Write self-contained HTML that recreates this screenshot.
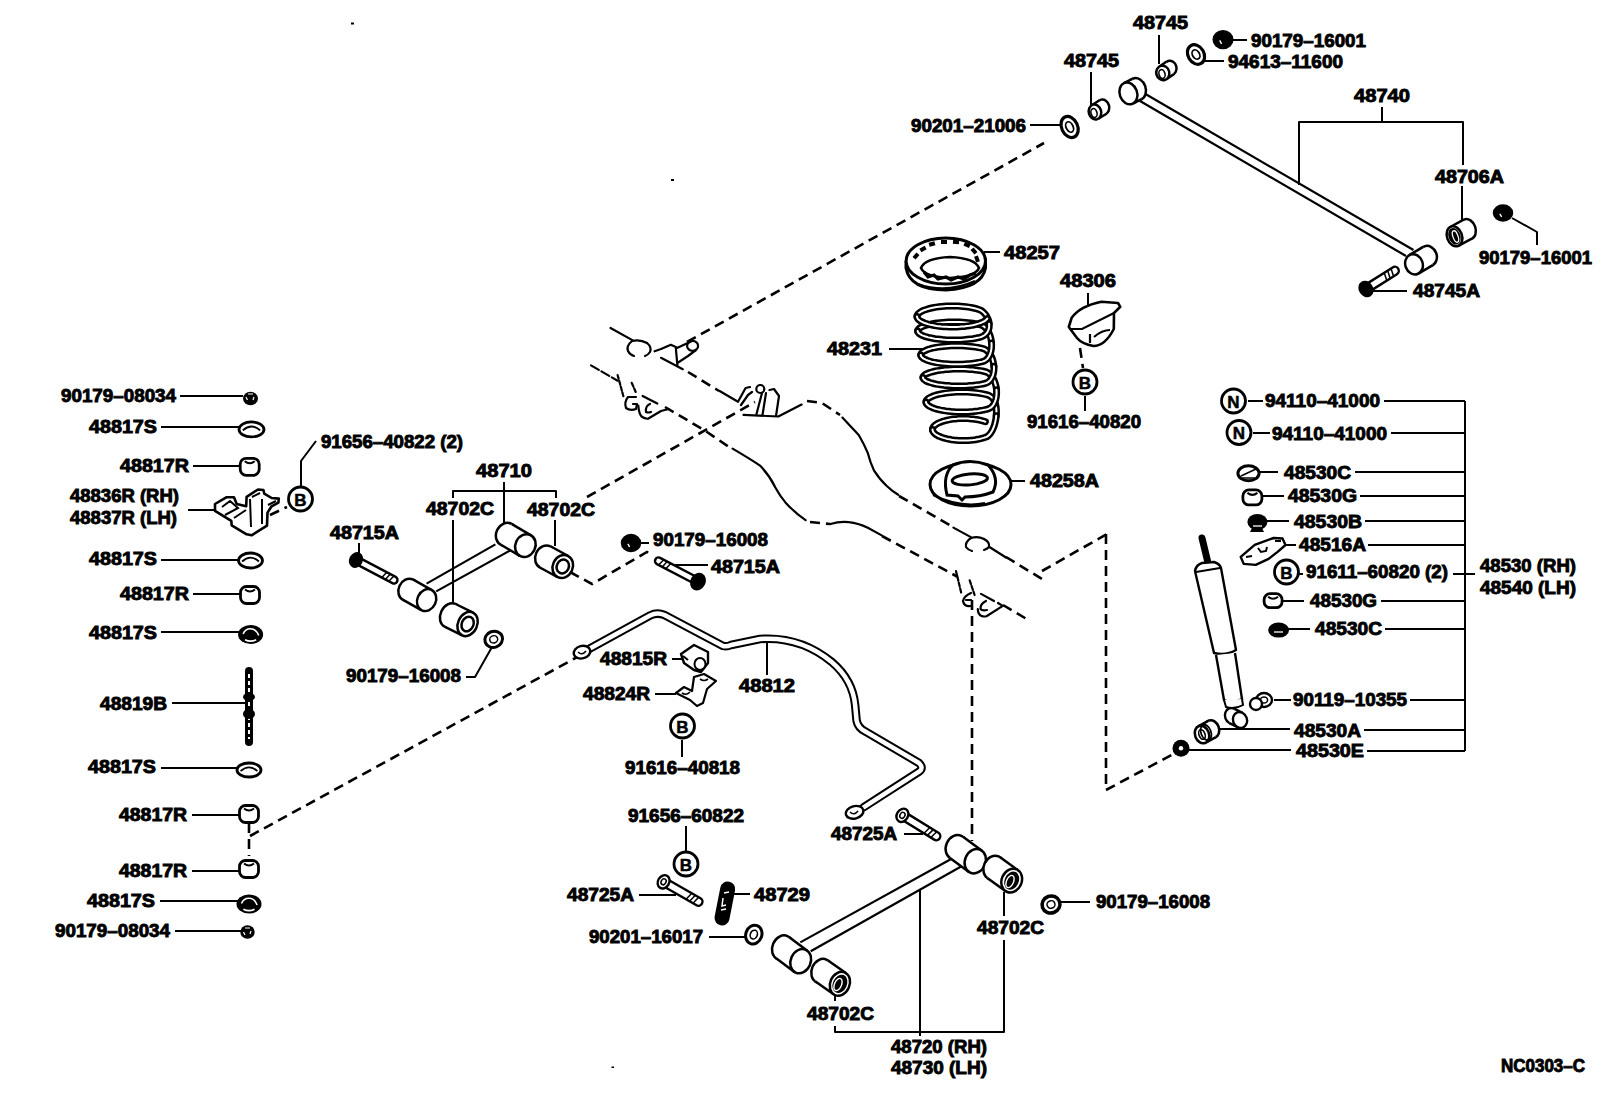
<!DOCTYPE html><html><head><meta charset="utf-8"><style>html,body{margin:0;padding:0;background:#fff;width:1608px;height:1104px;overflow:hidden}svg{display:block}</style></head><body><svg width="1608" height="1104" viewBox="0 0 1608 1104">
<rect width="1608" height="1104" fill="#fff"/>
<g fill="none" stroke="#000" stroke-width="2" stroke-linejoin="round">
<polyline points="180,396 243,396"/>
<polyline points="161,427 240,427"/>
<polyline points="193,466 241,466"/>
<polyline points="188,510 218,510"/>
<polyline points="161,560 240,560"/>
<polyline points="193,594 241,594"/>
<polyline points="161,632 239,632"/>
<polyline points="172,703 245,703"/>
<polyline points="161,768 238,768"/>
<polyline points="192,815 241,815"/>
<polyline points="192,871 241,871"/>
<polyline points="160,901 238,901"/>
<polyline points="175,931 241,931"/>
<polyline points="316,441 301,461 301,487"/>
<polyline points="453,498 453,491 556,491 556,498"/>
<polyline points="504,482 504,524"/>
<polyline points="453,520 453,603"/>
<polyline points="555,520 555,546"/>
<polyline points="359,543 359,560"/>
<polyline points="640,543 649,543"/>
<polyline points="675,565 708,565"/>
<polyline points="466,677 475,677 492,647"/>
<polyline points="672,659 683,659"/>
<polyline points="655,694 676,694"/>
<polyline points="767,643 767,675"/>
<polyline points="682,740 682,757"/>
<polyline points="686,826 686,851"/>
<polyline points="639,895 676,895"/>
<polyline points="734,894 750,894"/>
<polyline points="709,937 746,937"/>
<polyline points="904,834 923,834"/>
<polyline points="835,1026 835,1032 1004,1032 1004,940"/>
<polyline points="920,889 920,1036"/>
<polyline points="1004,892 1004,916"/>
<polyline points="835,992 835,1001"/>
<polyline points="1059,902 1090,902"/>
<polyline points="1231,40 1247,40"/>
<polyline points="1203,61 1224,61"/>
<polyline points="1091,72 1091,106"/>
<polyline points="1159,35 1159,64"/>
<polyline points="1030,125 1060,125"/>
<polyline points="1382,107 1382,122"/>
<polyline points="1299,185 1299,122 1463,122 1463,165"/>
<polyline points="1462,186 1462,221"/>
<polyline points="1512,218 1537,232 1537,245"/>
<polyline points="1372,291 1407,291"/>
<polyline points="984,252 1000,252"/>
<polyline points="1088,293 1088,308"/>
<polyline points="1085,396 1085,411"/>
<polyline points="889,349 924,349"/>
<polyline points="1010,481 1025,481"/>
<polyline points="1248,401 1263,401"/>
<polyline points="1384,401 1465,401"/>
<polyline points="1253,433 1270,433"/>
<polyline points="1391,433 1465,433"/>
<polyline points="1258,472 1278,472"/>
<polyline points="1355,472 1465,472"/>
<polyline points="1262,496 1284,496"/>
<polyline points="1360,496 1465,496"/>
<polyline points="1266,521 1289,521"/>
<polyline points="1365,521 1465,521"/>
<polyline points="1286,545 1296,545"/>
<polyline points="1368,545 1465,545"/>
<polyline points="1298,574 1303,574"/>
<polyline points="1453,574 1475,574"/>
<polyline points="1277,601 1304,601"/>
<polyline points="1381,601 1465,601"/>
<polyline points="1285,629 1310,629"/>
<polyline points="1385,629 1465,629"/>
<polyline points="1274,700 1291,700"/>
<polyline points="1410,700 1465,700"/>
<polyline points="1220,729 1290,729"/>
<polyline points="1364,730 1465,730"/>
<polyline points="1189,750 1291,750"/>
<polyline points="1367,751 1465,751"/>
<polyline points="1465,401 1465,751"/>
</g>
<g fill="none" stroke="#000" stroke-width="2.6" stroke-dasharray="10,6">
<polyline points="250,836 581,655"/>
<polyline points="249,823 249,856"/>
<polyline points="270,515 287,507"/>
<polyline points="570,572 592,584 647,552 653,556"/>
<polyline points="587,497 755,402"/>
<polyline points="687,342 1044,143"/>
<polyline points="688,372 719,391"/>
<polyline points="665,407 704,430 732,449"/>
<polyline points="807,401 822,403 840,415"/>
<polyline points="899,496 953,527"/>
<polyline points="810,522 830,524"/>
<polyline points="882,536 958,577"/>
<polyline points="1006,557 1047,582"/>
<polyline points="1003,605 1030,621"/>
<polyline points="972,600 972,841"/>
<polyline points="1042,571 1107,534"/>
<polyline points="1106,534 1106,790"/>
<polyline points="1106,790 1181,750"/>
<polyline points="1080,348 1083,368"/>
</g>
<path d="M610.5,328 L632.8,340.4" fill="none" stroke="#000" stroke-width="2.2" stroke-linecap="round" stroke-linejoin="round"/>
<path d="M632,341 Q626,346 628,351 Q630,355 634,356 M647,343 Q652,347 650,352 Q648,355 645,356" fill="none" stroke="#000" stroke-width="2.2" stroke-linecap="round" stroke-linejoin="round"/>
<path d="M632,341 Q640,339 647,343" fill="none" stroke="#000" stroke-width="2.2" stroke-linecap="round" stroke-linejoin="round"/>
<path d="M654.6,351.3 L661,349 L670.9,344.8 L676.8,347.5 M675.8,348 L677.4,365.4 M677,348 L691,341.5 M677.4,363 L688,356 L696,350" fill="none" stroke="#000" stroke-width="2.2" stroke-linecap="round" stroke-linejoin="round"/>
<ellipse cx="692.6" cy="345.9" rx="5.5" ry="5" fill="none" stroke="#000" stroke-width="2.2" stroke-linecap="round" stroke-linejoin="round"/>
<path d="M661,357.8 L682.8,369.2" fill="none" stroke="#000" stroke-width="2.2" stroke-linecap="round" stroke-linejoin="round"/>
<path d="M719.6,391 L738,401.8 L745.6,388 L750,387 M741,405 L748,395 L752,392 M756.5,414 L762,393 M762.5,415 L766,393 M776,416 L779,396 L774,389 L769.5,390" fill="none" stroke="#000" stroke-width="2.2" stroke-linecap="round" stroke-linejoin="round"/>
<circle cx="760.3" cy="389" r="4" fill="none" stroke="#000" stroke-width="2.2" stroke-linecap="round" stroke-linejoin="round"/>
<path d="M743.5,414.9 L778.3,416.5 L801.6,404.6" fill="none" stroke="#000" stroke-width="2.2" stroke-linecap="round" stroke-linejoin="round"/>
<path d="M842.4,417.6 Q852,428 858.9,435.2 Q864,444 867.8,453 Q870,462 874.1,470.7 Q880,480 886.8,486 Q892,491 898.2,494.8" fill="none" stroke="#000" stroke-width="2.2" stroke-linecap="round" stroke-linejoin="round"/>
<path d="M953.4,527.6 L971.3,537.4" fill="none" stroke="#000" stroke-width="2.2" stroke-linecap="round" stroke-linejoin="round"/>
<path d="M971,538 Q965,542 966,547 Q968,550 972,551 M984,539 Q990,542 989,547 Q987,549 984,550" fill="none" stroke="#000" stroke-width="2.2" stroke-linecap="round" stroke-linejoin="round"/>
<path d="M971,538 Q978,536 984,539 M989.8,547.2 L1006,557.5" fill="none" stroke="#000" stroke-width="2.2" stroke-linecap="round" stroke-linejoin="round"/>
<path d="M591,365.4 L617.6,380.7" fill="none" stroke="#000" stroke-width="2.2" stroke-linecap="round" stroke-linejoin="round" stroke-dasharray="9,3"/>
<path d="M617.6,375 L623.6,397 M631.7,382.8 L636,392.6" fill="none" stroke="#000" stroke-width="2.2" stroke-linecap="round" stroke-linejoin="round" stroke-dasharray="4,2"/>
<path d="M636,397 L628,397 Q624,402 626,408 Q630,411 636,409 L637,404 L633,404" fill="none" stroke="#000" stroke-width="2.2" stroke-linecap="round" stroke-linejoin="round"/>
<path d="M638.3,405.7 Q639,414 641.5,416.5 Q645,419 648,418.7 L661,411 L668.7,409" fill="none" stroke="#000" stroke-width="2.2" stroke-linecap="round" stroke-linejoin="round"/>
<path d="M650,404 Q645,406 646,412 Q648,413 651,412" fill="none" stroke="#000" stroke-width="2.2" stroke-linecap="round" stroke-linejoin="round"/>
<path d="M642.6,395.9 L657.3,403.5" fill="none" stroke="#000" stroke-width="2.2" stroke-linecap="round" stroke-linejoin="round"/>
<path d="M732.6,448.6 Q752,460 760,465.6 Q770,476 775.2,487.2 Q780,496 785.4,502.4 Q795,513 805.6,520.2" fill="none" stroke="#000" stroke-width="2.2" stroke-linecap="round" stroke-linejoin="round"/>
<path d="M830.4,524 Q840,521 848.8,522.1 Q858,523 867.8,527.8 L881.7,535.4" fill="none" stroke="#000" stroke-width="2.2" stroke-linecap="round" stroke-linejoin="round"/>
<path d="M956,571 L961.5,594 M969.7,580.3 L974.6,595" fill="none" stroke="#000" stroke-width="2.2" stroke-linecap="round" stroke-linejoin="round" stroke-dasharray="4,2"/>
<path d="M971,593 Q964,596 963,601 Q964,607 971,606 M966,600 L971,600" fill="none" stroke="#000" stroke-width="2.2" stroke-linecap="round" stroke-linejoin="round"/>
<path d="M986,601 Q980,604 980.5,609 Q982,611 987,610" fill="none" stroke="#000" stroke-width="2.2" stroke-linecap="round" stroke-linejoin="round"/>
<path d="M977.8,609.1 Q978,614 981,615.7 Q984,617 986.5,616.2 L1002.8,605.9 L998,603 M981,593.9 L994,601" fill="none" stroke="#000" stroke-width="2.2" stroke-linecap="round" stroke-linejoin="round"/>
<ellipse cx="250.5" cy="398.5" rx="7.5" ry="6.8" transform="rotate(0 250.5 398.5)" fill="#000" stroke="#000" stroke-width="0" />
<path d="M246,397 L247.5,400 M254,397 L253,400 M248,394 L253,394" stroke="#fff" stroke-width="1.2" fill="none"/>
<ellipse cx="247.5" cy="932.0" rx="7.2" ry="6.8" transform="rotate(0 247.5 932.0)" fill="#000" stroke="#000" stroke-width="0" />
<path d="M243.5,932 L245,935 M251,931 L250,934 M245,928 L250,928" stroke="#fff" stroke-width="1.2" fill="none"/>
<ellipse cx="251.5" cy="429.4" rx="12.5" ry="7.5" transform="rotate(0 251.5 429.4)" fill="#fff" stroke="#000" stroke-width="2.8" />
<path d="M242.8,430.4 Q251.5,422.6 260.2,430.4" fill="none" stroke="#000" stroke-width="1.8"/>
<ellipse cx="250.5" cy="560.5" rx="12.0" ry="7.5" transform="rotate(0 250.5 560.5)" fill="#fff" stroke="#000" stroke-width="2.8" />
<path d="M242.1,561.5 Q250.5,553.8 258.9,561.5" fill="none" stroke="#000" stroke-width="1.8"/>
<ellipse cx="250.6" cy="634.5" rx="12.5" ry="9.5" transform="rotate(0 250.6 634.5)" fill="#000" stroke="#000" stroke-width="0" />
<path d="M243.1,634.0 Q245.0,628.8 250.6,628.8 Q256.2,628.8 258.7,635.5" fill="none" stroke="#fff" stroke-width="1.6"/>
<path d="M245.0,639.7 Q250.6,642.6 256.2,639.7" fill="none" stroke="#fff" stroke-width="1.6"/>
<ellipse cx="249.0" cy="770.0" rx="12.0" ry="7.0" transform="rotate(0 249.0 770.0)" fill="#fff" stroke="#000" stroke-width="2.8" />
<path d="M240.6,771.0 Q249.0,763.7 257.4,771.0" fill="none" stroke="#000" stroke-width="1.8"/>
<ellipse cx="249.0" cy="904.0" rx="12.5" ry="9.5" transform="rotate(0 249.0 904.0)" fill="#000" stroke="#000" stroke-width="0" />
<path d="M241.5,903.5 Q243.4,898.3 249.0,898.3 Q254.6,898.3 257.1,905.0" fill="none" stroke="#fff" stroke-width="1.6"/>
<path d="M243.4,909.2 Q249.0,912.1 254.6,909.2" fill="none" stroke="#fff" stroke-width="1.6"/>
<rect x="240.2" y="458.3" width="19" height="17" rx="6" ry="6" fill="#fff" stroke="#000" stroke-width="2.8"/><path d="M244.7,461.3 Q249.7,465.3 254.7,461.3" fill="none" stroke="#000" stroke-width="2"/>
<rect x="240.5" y="586.5" width="19" height="17" rx="6" ry="6" fill="#fff" stroke="#000" stroke-width="2.8"/><path d="M245.0,589.5 Q250.0,593.5 255.0,589.5" fill="none" stroke="#000" stroke-width="2"/>
<rect x="239.5" y="805.5" width="19" height="17" rx="6" ry="6" fill="#fff" stroke="#000" stroke-width="2.8"/><path d="M244.0,808.5 Q249.0,812.5 254.0,808.5" fill="none" stroke="#000" stroke-width="2"/>
<rect x="239.5" y="860.5" width="19" height="17" rx="6" ry="6" fill="#fff" stroke="#000" stroke-width="2.8"/><path d="M244.0,863.5 Q249.0,867.5 254.0,863.5" fill="none" stroke="#000" stroke-width="2"/>
<line x1="249" y1="671" x2="249" y2="742" stroke="#000" stroke-width="8" stroke-linecap="round"/>
<line x1="249" y1="674" x2="249" y2="739" stroke="#fff" stroke-width="2" stroke-dasharray="4,3"/>
<ellipse cx="249" cy="697" rx="6" ry="4" fill="#000"/>
<ellipse cx="249" cy="714" rx="6" ry="5" fill="#000"/>
<path d="M215,504 L226.7,497.2 L234,497.2 L236.7,504 L246.2,506.3 L246.6,496.8 L258,489.5 L263.4,490 L264.3,493.6 L271.6,498 L278.8,498.6 L278.4,502.6 L271.6,506.3 L267.5,512.6 L267,525.7 L251.6,535.3 L246.6,534.3 L231.7,525.3 L231.3,520.8 L215,510.8 Z" fill="#fff" stroke="#000" stroke-width="2.6" stroke-linejoin="round"/>
<path d="M222,507 L230,501 L238,508 L225,515 M234,518 L246,510 M250,499 L251,527 M262,499 L262,524 M252,497 L260,493 M268,505 L276,501" fill="none" stroke="#000" stroke-width="2"/>
<line x1="356.0" y1="560.0" x2="394.0" y2="580.0" stroke="#000" stroke-width="9.4" stroke-linecap="round"/><line x1="356.0" y1="560.0" x2="394.0" y2="580.0" stroke="#fff" stroke-width="4.6" stroke-linecap="round"/>
<line x1="388.8" y1="581.2" x2="393.9" y2="576.0" stroke="#000" stroke-width="1.5"/>
<line x1="385.3" y1="579.4" x2="390.3" y2="574.1" stroke="#000" stroke-width="1.5"/>
<line x1="381.8" y1="577.5" x2="386.8" y2="572.2" stroke="#000" stroke-width="1.5"/>
<ellipse cx="356.0" cy="560.0" rx="5.6" ry="7.0" transform="rotate(27.758540601060023 356.0 560.0)" fill="#000" stroke="#000" stroke-width="2.4" />
<line x1="426.6" y1="583.6" x2="495.4" y2="544.4" stroke="#000" stroke-width="2.2"/>
<line x1="436.2" y1="591.4" x2="510.2" y2="550.5" stroke="#000" stroke-width="2.2"/>
<ellipse cx="408.0" cy="589.7" rx="9.3" ry="11.3" transform="rotate(25 408.0 589.7)" fill="#fff" stroke="#000" stroke-width="2.5" />
<polygon points="413.3,579.7 431.9,590.1 421.3,610.1 402.7,599.7" fill="#fff" stroke="none"/>
<line x1="413.3" y1="579.7" x2="431.9" y2="590.1" stroke="#000" stroke-width="2.5"/>
<line x1="402.7" y1="599.7" x2="421.3" y2="610.1" stroke="#000" stroke-width="2.5"/>
<ellipse cx="426.6" cy="600.1" rx="9.3" ry="11.3" transform="rotate(25 426.6 600.1)" fill="#fff" stroke="#000" stroke-width="2.5" />
<ellipse cx="506.2" cy="534.3" rx="10.0" ry="11.7" transform="rotate(25 506.2 534.3)" fill="#fff" stroke="#000" stroke-width="2.5" />
<polygon points="511.9,524.1 531.1,535.4 519.7,555.8 500.5,544.5" fill="#fff" stroke="none"/>
<line x1="511.9" y1="524.1" x2="531.1" y2="535.4" stroke="#000" stroke-width="2.5"/>
<line x1="500.5" y1="544.5" x2="519.7" y2="555.8" stroke="#000" stroke-width="2.5"/>
<ellipse cx="525.4" cy="545.6" rx="10.0" ry="11.7" transform="rotate(25 525.4 545.6)" fill="#fff" stroke="#000" stroke-width="2.5" />
<ellipse cx="450.1" cy="615.3" rx="9.6" ry="12.6" transform="rotate(25 450.1 615.3)" fill="#fff" stroke="#000" stroke-width="2.5" />
<polygon points="455.6,604.0 473.1,612.7 462.1,635.3 444.6,626.6" fill="#fff" stroke="none"/>
<line x1="455.6" y1="604.0" x2="473.1" y2="612.7" stroke="#000" stroke-width="2.5"/>
<line x1="444.6" y1="626.6" x2="462.1" y2="635.3" stroke="#000" stroke-width="2.5"/>
<ellipse cx="467.6" cy="624.0" rx="9.6" ry="12.6" transform="rotate(25 467.6 624.0)" fill="#fff" stroke="#000" stroke-width="2.5" />
<ellipse cx="467.6" cy="624.0" rx="5.8" ry="7.6" transform="rotate(25 467.6 624.0)" fill="none" stroke="#000" stroke-width="2.5" />
<ellipse cx="545.4" cy="557.0" rx="10.0" ry="11.8" transform="rotate(25 545.4 557.0)" fill="#fff" stroke="#000" stroke-width="2.5" />
<polygon points="550.9,546.5 568.3,556.0 557.3,577.0 539.9,567.5" fill="#fff" stroke="none"/>
<line x1="550.9" y1="546.5" x2="568.3" y2="556.0" stroke="#000" stroke-width="2.5"/>
<line x1="539.9" y1="567.5" x2="557.3" y2="577.0" stroke="#000" stroke-width="2.5"/>
<ellipse cx="562.8" cy="566.5" rx="10.0" ry="11.8" transform="rotate(25 562.8 566.5)" fill="#fff" stroke="#000" stroke-width="2.5" />
<ellipse cx="562.8" cy="566.5" rx="6.0" ry="7.1" transform="rotate(25 562.8 566.5)" fill="none" stroke="#000" stroke-width="2.5" />
<ellipse cx="493.7" cy="639.3" rx="9.0" ry="8.0" transform="rotate(-20 493.7 639.3)" fill="#fff" stroke="#000" stroke-width="3" />
<ellipse cx="493.7" cy="639.3" rx="4.0" ry="3.6" transform="rotate(-20 493.7 639.3)" fill="none" stroke="#000" stroke-width="1.5" />
<ellipse cx="631.0" cy="543.0" rx="9.0" ry="8.0" transform="rotate(0 631.0 543.0)" fill="#000" stroke="#000" stroke-width="2.5" />
<path d="M627.9,543.8 L629.6,547.0" stroke="#fff" stroke-width="1.4"/>
<line x1="698.0" y1="581.6" x2="658.5" y2="561.0" stroke="#000" stroke-width="9.4" stroke-linecap="round"/><line x1="698.0" y1="581.6" x2="658.5" y2="561.0" stroke="#fff" stroke-width="4.6" stroke-linecap="round"/>
<line x1="663.7" y1="559.7" x2="658.7" y2="565.0" stroke="#000" stroke-width="1.5"/>
<line x1="667.2" y1="561.6" x2="662.2" y2="566.9" stroke="#000" stroke-width="1.5"/>
<line x1="670.8" y1="563.4" x2="665.7" y2="568.7" stroke="#000" stroke-width="1.5"/>
<ellipse cx="698.0" cy="581.6" rx="6.4" ry="8.0" transform="rotate(-152.45710376098938 698.0 581.6)" fill="#000" stroke="#000" stroke-width="2.4" />
<path d="M589.9,648.5 L650,615.5 Q657,612 664.5,615 L723,646 Q727,647 731,645 L760,639 Q800,636 831.7,661.9 Q853,680 855.2,705.7 L856.6,720.6 Q858,728 865.6,731.6 L919,763 Q924,768 919.4,771.4 L863.6,807.3" fill="none" stroke="#000" stroke-width="8.5" stroke-linejoin="round" stroke-linecap="round"/><path d="M589.9,648.5 L650,615.5 Q657,612 664.5,615 L723,646 Q727,647 731,645 L760,639 Q800,636 831.7,661.9 Q853,680 855.2,705.7 L856.6,720.6 Q858,728 865.6,731.6 L919,763 Q924,768 919.4,771.4 L863.6,807.3" fill="none" stroke="#fff" stroke-width="4.5" stroke-linejoin="round" stroke-linecap="round"/>
<ellipse cx="582.0" cy="652.2" rx="8.4" ry="6.2" transform="rotate(-15 582.0 652.2)" fill="#fff" stroke="#000" stroke-width="2.4" />
<path d="M578,652 Q582,656 586,651" fill="none" stroke="#000" stroke-width="1.6"/>
<ellipse cx="854.6" cy="812.3" rx="9.0" ry="6.2" transform="rotate(-15 854.6 812.3)" fill="#fff" stroke="#000" stroke-width="2.4" />
<path d="M850,812 Q854,816 858,811" fill="none" stroke="#000" stroke-width="1.6"/>
<path d="M681,654 L694,645 L708,652 L708,663 L701,672 L694,670 L684,663 Z" fill="#fff" stroke="#000" stroke-width="2.4" stroke-linejoin="round"/>
<ellipse cx="700.0" cy="664.0" rx="5.5" ry="6.0" transform="rotate(0 700.0 664.0)" fill="#fff" stroke="#000" stroke-width="2" />
<path d="M683,656 L688,660" stroke="#000" stroke-width="2"/>
<path d="M676,693 L684,687 L692,691 L694,677 L704,674 L716,681 L707,689 L703,703 L697,706 L690,700 Z" fill="#fff" stroke="#000" stroke-width="2.2" stroke-linejoin="round"/>
<path d="M682,693 Q686,696 690,692 M700,679 Q704,682 708,679" fill="none" stroke="#000" stroke-width="1.6"/>
<line x1="663.6" y1="881.8" x2="698.5" y2="901.7" stroke="#000" stroke-width="10.4" stroke-linecap="round"/><line x1="663.6" y1="881.8" x2="698.5" y2="901.7" stroke="#fff" stroke-width="5.6" stroke-linecap="round"/>
<line x1="693.0" y1="903.2" x2="698.7" y2="897.2" stroke="#000" stroke-width="1.5"/>
<line x1="689.6" y1="901.2" x2="695.3" y2="895.3" stroke="#000" stroke-width="1.5"/>
<line x1="686.1" y1="899.2" x2="691.8" y2="893.3" stroke="#000" stroke-width="1.5"/>
<ellipse cx="663.6" cy="881.8" rx="5.6" ry="7.0" transform="rotate(29.69181328539958 663.6 881.8)" fill="#fff" stroke="#000" stroke-width="2.4" />
<ellipse cx="663.6" cy="881.8" rx="2.4" ry="3.1" transform="rotate(29.69181328539958 663.6 881.8)" fill="none" stroke="#000" stroke-width="1.5" />
<line x1="902.4" y1="815.3" x2="936.3" y2="836.2" stroke="#000" stroke-width="10.4" stroke-linecap="round"/><line x1="902.4" y1="815.3" x2="936.3" y2="836.2" stroke="#fff" stroke-width="5.6" stroke-linecap="round"/>
<line x1="930.8" y1="837.5" x2="936.7" y2="831.7" stroke="#000" stroke-width="1.5"/>
<line x1="927.4" y1="835.4" x2="933.3" y2="829.6" stroke="#000" stroke-width="1.5"/>
<line x1="924.0" y1="833.3" x2="929.9" y2="827.5" stroke="#000" stroke-width="1.5"/>
<ellipse cx="902.4" cy="815.3" rx="5.6" ry="7.0" transform="rotate(31.6546282263384 902.4 815.3)" fill="#fff" stroke="#000" stroke-width="2.4" />
<ellipse cx="902.4" cy="815.3" rx="2.4" ry="3.1" transform="rotate(31.6546282263384 902.4 815.3)" fill="none" stroke="#000" stroke-width="1.5" />
<line x1="727.7" y1="889" x2="722" y2="918" stroke="#000" stroke-width="15" stroke-linecap="round"/>
<path d="M724,893 L729,892 M723,898 L722,906 L726,905 M721,910 L726,909" fill="none" stroke="#fff" stroke-width="1.5"/>
<ellipse cx="753.8" cy="934.6" rx="8.0" ry="9.6" transform="rotate(20 753.8 934.6)" fill="#fff" stroke="#000" stroke-width="3" />
<ellipse cx="753.8" cy="934.6" rx="3.5" ry="4.5" transform="rotate(20 753.8 934.6)" fill="none" stroke="#000" stroke-width="1.6" />
<line x1="800.3" y1="942.4" x2="962" y2="853" stroke="#000" stroke-width="2.2"/>
<line x1="810.7" y1="951.3" x2="962" y2="866" stroke="#000" stroke-width="2.2"/>
<ellipse cx="782.4" cy="947.5" rx="10.0" ry="12.5" transform="rotate(24 782.4 947.5)" fill="#fff" stroke="#000" stroke-width="2.5" />
<polygon points="789.0,937.0 807.3,950.7 794.1,971.7 775.8,958.0" fill="#fff" stroke="none"/>
<line x1="789.0" y1="937.0" x2="807.3" y2="950.7" stroke="#000" stroke-width="2.5"/>
<line x1="775.8" y1="958.0" x2="794.1" y2="971.7" stroke="#000" stroke-width="2.5"/>
<ellipse cx="800.7" cy="961.2" rx="10.0" ry="12.5" transform="rotate(24 800.7 961.2)" fill="#fff" stroke="#000" stroke-width="2.5" />
<ellipse cx="956.3" cy="847.2" rx="10.3" ry="12.5" transform="rotate(24 956.3 847.2)" fill="#fff" stroke="#000" stroke-width="2.5" />
<polygon points="963.0,836.7 982.0,850.7 968.6,871.7 949.6,857.7" fill="#fff" stroke="none"/>
<line x1="963.0" y1="836.7" x2="982.0" y2="850.7" stroke="#000" stroke-width="2.5"/>
<line x1="949.6" y1="857.7" x2="968.6" y2="871.7" stroke="#000" stroke-width="2.5"/>
<ellipse cx="975.3" cy="861.2" rx="10.3" ry="12.5" transform="rotate(24 975.3 861.2)" fill="#fff" stroke="#000" stroke-width="2.5" />
<ellipse cx="821.4" cy="970.8" rx="9.7" ry="12.3" transform="rotate(24 821.4 970.8)" fill="#fff" stroke="#000" stroke-width="2.5" />
<polygon points="827.7,960.3 846.2,973.3 833.6,994.3 815.1,981.3" fill="#fff" stroke="none"/>
<line x1="827.7" y1="960.3" x2="846.2" y2="973.3" stroke="#000" stroke-width="2.5"/>
<line x1="815.1" y1="981.3" x2="833.6" y2="994.3" stroke="#000" stroke-width="2.5"/>
<ellipse cx="839.9" cy="983.8" rx="9.7" ry="12.3" transform="rotate(24 839.9 983.8)" fill="#fff" stroke="#000" stroke-width="2.5" />
<ellipse cx="839.9" cy="983.8" rx="7.0" ry="9.5" transform="rotate(24 839.9 983.8)" fill="#000" stroke="#000" stroke-width="0" />
<ellipse cx="838.0" cy="984.5" rx="3.5" ry="6.5" transform="rotate(24 838.0 984.5)" fill="none" stroke="#fff" stroke-width="1.4" />
<ellipse cx="993.7" cy="867.6" rx="10.0" ry="12.2" transform="rotate(24 993.7 867.6)" fill="#fff" stroke="#000" stroke-width="2.5" />
<polygon points="1000.1,857.3 1018.1,870.3 1005.3,890.9 987.3,877.9" fill="#fff" stroke="none"/>
<line x1="1000.1" y1="857.3" x2="1018.1" y2="870.3" stroke="#000" stroke-width="2.5"/>
<line x1="987.3" y1="877.9" x2="1005.3" y2="890.9" stroke="#000" stroke-width="2.5"/>
<ellipse cx="1011.7" cy="880.6" rx="10.0" ry="12.2" transform="rotate(24 1011.7 880.6)" fill="#fff" stroke="#000" stroke-width="2.5" />
<ellipse cx="1011.7" cy="880.6" rx="7.0" ry="9.5" transform="rotate(24 1011.7 880.6)" fill="#000" stroke="#000" stroke-width="0" />
<ellipse cx="1010.0" cy="881.5" rx="3.5" ry="6.5" transform="rotate(24 1010.0 881.5)" fill="none" stroke="#fff" stroke-width="1.4" />
<ellipse cx="1051.0" cy="904.5" rx="9.0" ry="8.5" transform="rotate(-20 1051.0 904.5)" fill="#fff" stroke="#000" stroke-width="3.5" />
<ellipse cx="1051.0" cy="904.5" rx="4.0" ry="3.8" transform="rotate(-20 1051.0 904.5)" fill="none" stroke="#000" stroke-width="1.5" />
<path d="M917.0,316.5 L917.1,315.7 L917.4,314.9 L918.0,314.0 L918.7,313.3 L919.7,312.5 L920.9,311.7 L922.2,311.0 L923.8,310.3 L925.5,309.7 L927.4,309.1 L929.4,308.5 L931.6,308.0 L934.0,307.5 L936.4,307.1 L938.9,306.8 L941.5,306.5 L944.2,306.3 L946.9,306.1 L949.7,306.0 L952.5,306.0 L955.3,306.0 L958.1,306.1 L960.8,306.3 L963.5,306.5 L966.1,306.8 L968.6,307.1 L971.0,307.5 L973.4,308.0 L975.6,308.5 L977.6,309.1 L979.5,309.7 L981.3,310.6 L982.9,311.8 L984.3,313.1 L985.6,314.7 L986.7,316.3 L987.6,318.1 L988.4,320.0 L988.9,321.8 L989.1,323.8" fill="none" stroke="#000" stroke-width="7" stroke-linecap="round"/>
<path d="M917.0,316.5 L917.1,315.7 L917.4,314.9 L918.0,314.0 L918.7,313.3 L919.7,312.5 L920.9,311.7 L922.2,311.0 L923.8,310.3 L925.5,309.7 L927.4,309.1 L929.4,308.5 L931.6,308.0 L934.0,307.5 L936.4,307.1 L938.9,306.8 L941.5,306.5 L944.2,306.3 L946.9,306.1 L949.7,306.0 L952.5,306.0 L955.3,306.0 L958.1,306.1 L960.8,306.3 L963.5,306.5 L966.1,306.8 L968.6,307.1 L971.0,307.5 L973.4,308.0 L975.6,308.5 L977.6,309.1 L979.5,309.7 L981.3,310.6 L982.9,311.8 L984.3,313.1 L985.6,314.7 L986.7,316.3 L987.6,318.1 L988.4,320.0 L988.9,321.8 L989.1,323.8" fill="none" stroke="#fff" stroke-width="2" stroke-linecap="round"/>
<path d="M917.7,331.0 L917.8,330.3 L918.1,329.6 L918.7,328.9 L919.5,328.2 L920.5,327.6 L921.7,326.9 L923.0,326.3 L924.6,325.7 L926.4,325.2 L928.3,324.6 L930.4,324.2 L932.7,323.7 L935.0,323.3 L937.5,323.0 L940.1,322.7 L942.8,322.4 L945.5,322.2 L948.3,322.1 L951.2,322.0 L954.0,322.0 L956.8,322.0 L959.7,322.1 L962.5,322.2 L965.2,322.4 L967.9,322.7 L970.5,323.0 L973.0,323.3 L975.3,323.7 L977.6,324.2 L979.7,324.6 L981.6,325.2 L983.4,326.2 L985.1,327.5 L986.6,329.1 L987.9,331.0 L989.0,333.1 L990.0,335.4 L990.7,337.9 L991.2,340.4 L991.5,343.0" fill="none" stroke="#000" stroke-width="7" stroke-linecap="round"/>
<path d="M917.7,331.0 L917.8,330.3 L918.1,329.6 L918.7,328.9 L919.5,328.2 L920.5,327.6 L921.7,326.9 L923.0,326.3 L924.6,325.7 L926.4,325.2 L928.3,324.6 L930.4,324.2 L932.7,323.7 L935.0,323.3 L937.5,323.0 L940.1,322.7 L942.8,322.4 L945.5,322.2 L948.3,322.1 L951.2,322.0 L954.0,322.0 L956.8,322.0 L959.7,322.1 L962.5,322.2 L965.2,322.4 L967.9,322.7 L970.5,323.0 L973.0,323.3 L975.3,323.7 L977.6,324.2 L979.7,324.6 L981.6,325.2 L983.4,326.2 L985.1,327.5 L986.6,329.1 L987.9,331.0 L989.0,333.1 L990.0,335.4 L990.7,337.9 L991.2,340.4 L991.5,343.0" fill="none" stroke="#fff" stroke-width="2" stroke-linecap="round"/>
<path d="M920.8,355.0 L920.9,354.3 L921.2,353.5 L921.8,352.8 L922.6,352.1 L923.5,351.4 L924.7,350.8 L926.1,350.1 L927.7,349.5 L929.4,349.0 L931.3,348.4 L933.4,347.9 L935.6,347.5 L938.0,347.1 L940.5,346.7 L943.0,346.4 L945.7,346.2 L948.4,346.0 L951.2,345.8 L954.0,345.7 L956.8,345.7 L959.6,345.7 L962.4,345.8 L965.2,346.0 L967.9,346.2 L970.6,346.4 L973.1,346.7 L975.6,347.1 L978.0,347.5 L980.2,347.9 L982.3,348.4 L984.2,349.0 L986.0,350.0 L987.6,351.3 L989.1,352.9 L990.4,354.7 L991.5,356.8 L992.4,359.0 L993.1,361.4 L993.6,363.8 L993.9,366.2" fill="none" stroke="#000" stroke-width="7" stroke-linecap="round"/>
<path d="M920.8,355.0 L920.9,354.3 L921.2,353.5 L921.8,352.8 L922.6,352.1 L923.5,351.4 L924.7,350.8 L926.1,350.1 L927.7,349.5 L929.4,349.0 L931.3,348.4 L933.4,347.9 L935.6,347.5 L938.0,347.1 L940.5,346.7 L943.0,346.4 L945.7,346.2 L948.4,346.0 L951.2,345.8 L954.0,345.7 L956.8,345.7 L959.6,345.7 L962.4,345.8 L965.2,346.0 L967.9,346.2 L970.6,346.4 L973.1,346.7 L975.6,347.1 L978.0,347.5 L980.2,347.9 L982.3,348.4 L984.2,349.0 L986.0,350.0 L987.6,351.3 L989.1,352.9 L990.4,354.7 L991.5,356.8 L992.4,359.0 L993.1,361.4 L993.6,363.8 L993.9,366.2" fill="none" stroke="#fff" stroke-width="2" stroke-linecap="round"/>
<path d="M923.0,377.5 L923.1,376.8 L923.4,376.2 L924.0,375.5 L924.8,374.9 L925.7,374.2 L926.9,373.6 L928.3,373.1 L929.9,372.5 L931.6,372.0 L933.5,371.5 L935.6,371.0 L937.8,370.6 L940.2,370.3 L942.7,369.9 L945.2,369.6 L947.9,369.4 L950.6,369.2 L953.4,369.1 L956.2,369.0 L959.0,369.0 L961.8,369.0 L964.6,369.1 L967.4,369.2 L970.1,369.4 L972.8,369.6 L975.3,369.9 L977.8,370.3 L980.2,370.6 L982.4,371.0 L984.5,371.5 L986.4,372.0 L988.2,373.0 L989.8,374.2 L991.4,375.8 L992.7,377.7 L993.9,379.8 L994.8,382.1 L995.6,384.6 L996.2,387.1 L996.5,389.8" fill="none" stroke="#000" stroke-width="7" stroke-linecap="round"/>
<path d="M923.0,377.5 L923.1,376.8 L923.4,376.2 L924.0,375.5 L924.8,374.9 L925.7,374.2 L926.9,373.6 L928.3,373.1 L929.9,372.5 L931.6,372.0 L933.5,371.5 L935.6,371.0 L937.8,370.6 L940.2,370.3 L942.7,369.9 L945.2,369.6 L947.9,369.4 L950.6,369.2 L953.4,369.1 L956.2,369.0 L959.0,369.0 L961.8,369.0 L964.6,369.1 L967.4,369.2 L970.1,369.4 L972.8,369.6 L975.3,369.9 L977.8,370.3 L980.2,370.6 L982.4,371.0 L984.5,371.5 L986.4,372.0 L988.2,373.0 L989.8,374.2 L991.4,375.8 L992.7,377.7 L993.9,379.8 L994.8,382.1 L995.6,384.6 L996.2,387.1 L996.5,389.8" fill="none" stroke="#fff" stroke-width="2" stroke-linecap="round"/>
<path d="M926.0,402.0 L926.1,401.2 L926.4,400.4 L927.0,399.7 L927.8,398.9 L928.7,398.2 L929.9,397.5 L931.3,396.8 L932.9,396.1 L934.6,395.5 L936.5,394.9 L938.6,394.4 L940.8,393.9 L943.2,393.5 L945.7,393.1 L948.2,392.8 L950.9,392.5 L953.6,392.3 L956.4,392.1 L959.2,392.0 L962.0,392.0 L964.8,392.0 L967.6,392.1 L970.4,392.3 L973.1,392.5 L975.8,392.8 L978.3,393.1 L980.8,393.5 L983.2,393.9 L985.4,394.4 L987.5,394.9 L989.4,395.6 L991.1,396.7 L992.6,398.1 L993.8,400.0 L994.8,402.1 L995.6,404.5 L996.1,407.1 L996.4,409.9 L996.4,412.8 L996.2,415.8" fill="none" stroke="#000" stroke-width="7" stroke-linecap="round"/>
<path d="M926.0,402.0 L926.1,401.2 L926.4,400.4 L927.0,399.7 L927.8,398.9 L928.7,398.2 L929.9,397.5 L931.3,396.8 L932.9,396.1 L934.6,395.5 L936.5,394.9 L938.6,394.4 L940.8,393.9 L943.2,393.5 L945.7,393.1 L948.2,392.8 L950.9,392.5 L953.6,392.3 L956.4,392.1 L959.2,392.0 L962.0,392.0 L964.8,392.0 L967.6,392.1 L970.4,392.3 L973.1,392.5 L975.8,392.8 L978.3,393.1 L980.8,393.5 L983.2,393.9 L985.4,394.4 L987.5,394.9 L989.4,395.6 L991.1,396.7 L992.6,398.1 L993.8,400.0 L994.8,402.1 L995.6,404.5 L996.1,407.1 L996.4,409.9 L996.4,412.8 L996.2,415.8" fill="none" stroke="#fff" stroke-width="2" stroke-linecap="round"/>
<path d="M932.5,429.5 L932.6,428.9 L932.7,428.2 L933.0,427.6 L933.4,426.9 L933.8,426.3 L934.4,425.7 L935.1,425.1 L935.9,424.5 L936.8,423.9 L937.7,423.4 L938.8,422.9 L939.9,422.4 L941.2,421.9 L942.5,421.4 L943.8,421.0 L945.3,420.6 L946.8,420.2 L948.4,419.9 L950.0,419.6 L951.6,419.3 L953.3,419.1 L955.1,418.9 L956.9,418.8 L958.7,418.6 L960.5,418.6 L962.3,418.5 L964.1,418.5 L965.9,418.5 L967.7,418.6 L969.5,418.7 L971.3,418.9 L973.1,419.0 L974.8,419.3 L976.5,419.5 L978.1,419.8 L979.7,420.1 L981.2,420.5 L982.7,420.9 L984.1,421.3 L985.4,421.7" fill="none" stroke="#000" stroke-width="7" stroke-linecap="round"/>
<path d="M932.5,429.5 L932.6,428.9 L932.7,428.2 L933.0,427.6 L933.4,426.9 L933.8,426.3 L934.4,425.7 L935.1,425.1 L935.9,424.5 L936.8,423.9 L937.7,423.4 L938.8,422.9 L939.9,422.4 L941.2,421.9 L942.5,421.4 L943.8,421.0 L945.3,420.6 L946.8,420.2 L948.4,419.9 L950.0,419.6 L951.6,419.3 L953.3,419.1 L955.1,418.9 L956.9,418.8 L958.7,418.6 L960.5,418.6 L962.3,418.5 L964.1,418.5 L965.9,418.5 L967.7,418.6 L969.5,418.7 L971.3,418.9 L973.1,419.0 L974.8,419.3 L976.5,419.5 L978.1,419.8 L979.7,420.1 L981.2,420.5 L982.7,420.9 L984.1,421.3 L985.4,421.7" fill="none" stroke="#fff" stroke-width="2" stroke-linecap="round"/>
<path d="M987.3,318.6 L986.7,319.3 L985.9,320.1 L984.9,320.8 L983.8,321.5 L982.4,322.1 L980.9,322.8 L979.3,323.4 L977.5,323.9 L975.6,324.5 L973.6,325.0 L971.4,325.4 L969.2,325.8 L966.8,326.1 L964.4,326.4 L961.9,326.6 L959.3,326.8 L956.8,326.9 L954.2,327.0 L951.6,327.0 L949.0,326.9 L946.4,326.8 L943.8,326.7 L941.3,326.5 L938.9,326.2 L936.5,325.9 L934.2,325.5 L932.0,325.1 L929.9,324.6 L928.0,324.1 L926.2,323.5 L924.5,323.0 L923.0,322.3 L921.6,321.7 L920.4,321.0 L919.4,320.3 L918.5,319.5 L917.9,318.8 L917.4,318.0 L917.1,317.3 L917.0,316.5" fill="none" stroke="#000" stroke-width="7" stroke-linecap="round"/>
<path d="M987.3,318.6 L986.7,319.3 L985.9,320.1 L984.9,320.8 L983.8,321.5 L982.4,322.1 L980.9,322.8 L979.3,323.4 L977.5,323.9 L975.6,324.5 L973.6,325.0 L971.4,325.4 L969.2,325.8 L966.8,326.1 L964.4,326.4 L961.9,326.6 L959.3,326.8 L956.8,326.9 L954.2,327.0 L951.6,327.0 L949.0,326.9 L946.4,326.8 L943.8,326.7 L941.3,326.5 L938.9,326.2 L936.5,325.9 L934.2,325.5 L932.0,325.1 L929.9,324.6 L928.0,324.1 L926.2,323.5 L924.5,323.0 L923.0,322.3 L921.6,321.7 L920.4,321.0 L919.4,320.3 L918.5,319.5 L917.9,318.8 L917.4,318.0 L917.1,317.3 L917.0,316.5" fill="none" stroke="#fff" stroke-width="2" stroke-linecap="round"/>
<path d="M989.1,323.8 L989.2,325.6 L989.1,327.5 L988.7,329.2 L988.1,330.9 L987.2,332.4 L986.1,333.8 L984.8,335.0 L983.3,336.0 L981.6,336.8 L979.7,337.4 L977.6,337.8 L975.3,338.3 L973.0,338.7 L970.5,339.0 L967.9,339.3 L965.2,339.6 L962.5,339.8 L959.7,339.9 L956.8,340.0 L954.0,340.0 L951.2,340.0 L948.3,339.9 L945.5,339.8 L942.8,339.6 L940.1,339.3 L937.5,339.0 L935.0,338.7 L932.7,338.3 L930.4,337.8 L928.3,337.4 L926.4,336.8 L924.6,336.3 L923.0,335.7 L921.7,335.1 L920.5,334.4 L919.5,333.8 L918.7,333.1 L918.1,332.4 L917.8,331.7 L917.7,331.0" fill="none" stroke="#000" stroke-width="7" stroke-linecap="round"/>
<path d="M989.1,323.8 L989.2,325.6 L989.1,327.5 L988.7,329.2 L988.1,330.9 L987.2,332.4 L986.1,333.8 L984.8,335.0 L983.3,336.0 L981.6,336.8 L979.7,337.4 L977.6,337.8 L975.3,338.3 L973.0,338.7 L970.5,339.0 L967.9,339.3 L965.2,339.6 L962.5,339.8 L959.7,339.9 L956.8,340.0 L954.0,340.0 L951.2,340.0 L948.3,339.9 L945.5,339.8 L942.8,339.6 L940.1,339.3 L937.5,339.0 L935.0,338.7 L932.7,338.3 L930.4,337.8 L928.3,337.4 L926.4,336.8 L924.6,336.3 L923.0,335.7 L921.7,335.1 L920.5,334.4 L919.5,333.8 L918.7,333.1 L918.1,332.4 L917.8,331.7 L917.7,331.0" fill="none" stroke="#fff" stroke-width="2" stroke-linecap="round"/>
<path d="M991.5,343.0 L991.6,345.6 L991.5,348.1 L991.1,350.6 L990.5,352.9 L989.7,355.1 L988.6,357.0 L987.4,358.7 L985.9,360.0 L984.2,361.0 L982.3,361.6 L980.2,362.1 L978.0,362.5 L975.6,362.9 L973.1,363.3 L970.6,363.6 L967.9,363.8 L965.2,364.0 L962.4,364.2 L959.6,364.3 L956.8,364.3 L954.0,364.3 L951.2,364.2 L948.4,364.0 L945.7,363.8 L943.0,363.6 L940.5,363.3 L938.0,362.9 L935.6,362.5 L933.4,362.1 L931.3,361.6 L929.4,361.0 L927.7,360.5 L926.1,359.9 L924.7,359.2 L923.5,358.6 L922.6,357.9 L921.8,357.2 L921.2,356.5 L920.9,355.7 L920.8,355.0" fill="none" stroke="#000" stroke-width="7" stroke-linecap="round"/>
<path d="M991.5,343.0 L991.6,345.6 L991.5,348.1 L991.1,350.6 L990.5,352.9 L989.7,355.1 L988.6,357.0 L987.4,358.7 L985.9,360.0 L984.2,361.0 L982.3,361.6 L980.2,362.1 L978.0,362.5 L975.6,362.9 L973.1,363.3 L970.6,363.6 L967.9,363.8 L965.2,364.0 L962.4,364.2 L959.6,364.3 L956.8,364.3 L954.0,364.3 L951.2,364.2 L948.4,364.0 L945.7,363.8 L943.0,363.6 L940.5,363.3 L938.0,362.9 L935.6,362.5 L933.4,362.1 L931.3,361.6 L929.4,361.0 L927.7,360.5 L926.1,359.9 L924.7,359.2 L923.5,358.6 L922.6,357.9 L921.8,357.2 L921.2,356.5 L920.9,355.7 L920.8,355.0" fill="none" stroke="#fff" stroke-width="2" stroke-linecap="round"/>
<path d="M993.9,366.2 L994.0,368.7 L993.8,371.1 L993.4,373.4 L992.8,375.6 L991.9,377.5 L990.9,379.3 L989.6,380.8 L988.1,382.1 L986.4,383.0 L984.5,383.5 L982.4,384.0 L980.2,384.4 L977.8,384.7 L975.3,385.1 L972.8,385.4 L970.1,385.6 L967.4,385.8 L964.6,385.9 L961.8,386.0 L959.0,386.0 L956.2,386.0 L953.4,385.9 L950.6,385.8 L947.9,385.6 L945.2,385.4 L942.7,385.1 L940.2,384.7 L937.8,384.4 L935.6,384.0 L933.5,383.5 L931.6,383.0 L929.9,382.5 L928.3,381.9 L926.9,381.4 L925.7,380.8 L924.8,380.1 L924.0,379.5 L923.4,378.8 L923.1,378.2 L923.0,377.5" fill="none" stroke="#000" stroke-width="7" stroke-linecap="round"/>
<path d="M993.9,366.2 L994.0,368.7 L993.8,371.1 L993.4,373.4 L992.8,375.6 L991.9,377.5 L990.9,379.3 L989.6,380.8 L988.1,382.1 L986.4,383.0 L984.5,383.5 L982.4,384.0 L980.2,384.4 L977.8,384.7 L975.3,385.1 L972.8,385.4 L970.1,385.6 L967.4,385.8 L964.6,385.9 L961.8,386.0 L959.0,386.0 L956.2,386.0 L953.4,385.9 L950.6,385.8 L947.9,385.6 L945.2,385.4 L942.7,385.1 L940.2,384.7 L937.8,384.4 L935.6,384.0 L933.5,383.5 L931.6,383.0 L929.9,382.5 L928.3,381.9 L926.9,381.4 L925.7,380.8 L924.8,380.1 L924.0,379.5 L923.4,378.8 L923.1,378.2 L923.0,377.5" fill="none" stroke="#fff" stroke-width="2" stroke-linecap="round"/>
<path d="M996.5,389.8 L996.6,392.4 L996.5,395.0 L996.2,397.5 L995.6,400.0 L994.8,402.2 L993.8,404.2 L992.5,406.0 L991.1,407.4 L989.4,408.4 L987.5,409.1 L985.4,409.6 L983.2,410.1 L980.8,410.5 L978.3,410.9 L975.8,411.2 L973.1,411.5 L970.4,411.7 L967.6,411.9 L964.8,412.0 L962.0,412.0 L959.2,412.0 L956.4,411.9 L953.6,411.7 L950.9,411.5 L948.2,411.2 L945.7,410.9 L943.2,410.5 L940.8,410.1 L938.6,409.6 L936.5,409.1 L934.6,408.5 L932.9,407.9 L931.3,407.2 L929.9,406.5 L928.7,405.8 L927.8,405.1 L927.0,404.3 L926.4,403.6 L926.1,402.8 L926.0,402.0" fill="none" stroke="#000" stroke-width="7" stroke-linecap="round"/>
<path d="M996.5,389.8 L996.6,392.4 L996.5,395.0 L996.2,397.5 L995.6,400.0 L994.8,402.2 L993.8,404.2 L992.5,406.0 L991.1,407.4 L989.4,408.4 L987.5,409.1 L985.4,409.6 L983.2,410.1 L980.8,410.5 L978.3,410.9 L975.8,411.2 L973.1,411.5 L970.4,411.7 L967.6,411.9 L964.8,412.0 L962.0,412.0 L959.2,412.0 L956.4,411.9 L953.6,411.7 L950.9,411.5 L948.2,411.2 L945.7,410.9 L943.2,410.5 L940.8,410.1 L938.6,409.6 L936.5,409.1 L934.6,408.5 L932.9,407.9 L931.3,407.2 L929.9,406.5 L928.7,405.8 L927.8,405.1 L927.0,404.3 L926.4,403.6 L926.1,402.8 L926.0,402.0" fill="none" stroke="#fff" stroke-width="2" stroke-linecap="round"/>
<path d="M996.2,415.8 L995.9,418.7 L995.3,421.7 L994.6,424.5 L993.7,427.2 L992.6,429.7 L991.4,431.9 L990.1,433.8 L988.6,435.4 L987.1,436.6 L985.4,437.3 L983.6,437.9 L981.7,438.4 L979.7,438.9 L977.6,439.3 L975.4,439.7 L973.1,440.0 L970.7,440.2 L968.3,440.4 L965.9,440.5 L963.5,440.5 L961.1,440.5 L958.7,440.4 L956.3,440.2 L953.9,440.0 L951.6,439.7 L949.4,439.3 L947.3,438.9 L945.3,438.4 L943.4,437.9 L941.6,437.3 L939.9,436.6 L938.4,436.0 L937.1,435.2 L935.9,434.5 L934.9,433.7 L934.0,432.9 L933.4,432.1 L932.9,431.2 L932.6,430.4 L932.5,429.5" fill="none" stroke="#000" stroke-width="7" stroke-linecap="round"/>
<path d="M996.2,415.8 L995.9,418.7 L995.3,421.7 L994.6,424.5 L993.7,427.2 L992.6,429.7 L991.4,431.9 L990.1,433.8 L988.6,435.4 L987.1,436.6 L985.4,437.3 L983.6,437.9 L981.7,438.4 L979.7,438.9 L977.6,439.3 L975.4,439.7 L973.1,440.0 L970.7,440.2 L968.3,440.4 L965.9,440.5 L963.5,440.5 L961.1,440.5 L958.7,440.4 L956.3,440.2 L953.9,440.0 L951.6,439.7 L949.4,439.3 L947.3,438.9 L945.3,438.4 L943.4,437.9 L941.6,437.3 L939.9,436.6 L938.4,436.0 L937.1,435.2 L935.9,434.5 L934.9,433.7 L934.0,432.9 L933.4,432.1 L932.9,431.2 L932.6,430.4 L932.5,429.5" fill="none" stroke="#fff" stroke-width="2" stroke-linecap="round"/>
<path d="M906,261 L906,268 Q910,290 946,290 Q982,288 985.5,268 L985.5,258" fill="#fff" stroke="#000" stroke-width="3"/>
<ellipse cx="945.8" cy="261.0" rx="39.7" ry="23.0" transform="rotate(0 945.8 261.0)" fill="#fff" stroke="#000" stroke-width="3" />
<path d="M918,284 Q946,294 975,281" fill="none" stroke="#000" stroke-width="2"/>
<path d="M921,268 Q925,258 950,257 Q975,258 979,268 Q975,277 950,278 Q925,277 921,268 Z" fill="#fff" stroke="#000" stroke-width="2.6"/>
<path d="M924,272 L928,277 L934,275 L938,279 L946,277 L951,280 L958,277 L964,279 L970,275 L976,273" fill="none" stroke="#000" stroke-width="3.2"/>
<rect x="913" y="254" width="6" height="4" fill="#000" transform="rotate(-50 916 256)"/>
<rect x="920" y="247" width="6" height="4" fill="#000" transform="rotate(-30 923 249)"/>
<rect x="929" y="242" width="6" height="4" fill="#000" transform="rotate(-15 932 244)"/>
<rect x="941" y="240" width="6" height="4" fill="#000" transform="rotate(0 944 242)"/>
<rect x="953" y="240" width="6" height="4" fill="#000" transform="rotate(5 956 242)"/>
<rect x="964" y="243" width="6" height="4" fill="#000" transform="rotate(25 967 245)"/>
<rect x="971" y="249" width="6" height="4" fill="#000" transform="rotate(50 974 251)"/>
<rect x="974" y="257" width="6" height="4" fill="#000" transform="rotate(70 977 259)"/>
<ellipse cx="970.5" cy="484.5" rx="40.5" ry="21.5" transform="rotate(0 970.5 484.5)" fill="#fff" stroke="#000" stroke-width="3" />
<path d="M933,495 Q960,508 985,503" fill="none" stroke="#000" stroke-width="2"/>
<path d="M947,495 Q942,475 953,465 Q970,458 988,465 Q1000,478 993,492 Q980,497 965,497 L962,500 L958,496 Z" fill="#fff" stroke="#000" stroke-width="3"/>
<ellipse cx="969.8" cy="479.4" rx="17.7" ry="5.5" transform="rotate(-5 969.8 479.4)" fill="#fff" stroke="#000" stroke-width="3" />
<path d="M1071.7,317.7 Q1080,306 1101.4,301.7 L1118,303 L1120.3,306.8 L1114,313 L1113.8,329 Q1105,346 1093.5,346 Q1082,344 1077,338 L1068.8,327 Z" fill="#fff" stroke="#000" stroke-width="2.6" stroke-linejoin="round"/>
<path d="M1070,329 L1082,329 L1114,313 M1090,334 L1090,343 M1094,337 Q1102,330 1110,330" fill="none" stroke="#000" stroke-width="2.2"/>
<ellipse cx="1069.6" cy="127.0" rx="8.0" ry="11.0" transform="rotate(-25 1069.6 127.0)" fill="#fff" stroke="#000" stroke-width="3.2" />
<ellipse cx="1069.6" cy="127.0" rx="3.5" ry="5.5" transform="rotate(-25 1069.6 127.0)" fill="none" stroke="#000" stroke-width="1.8" />
<ellipse cx="1103.0" cy="107.0" rx="6.2" ry="7.6" transform="rotate(-15 1103.0 107.0)" fill="#fff" stroke="#000" stroke-width="2.5" />
<polygon points="1106.4,113.7 1098.4,118.7 1091.6,105.3 1099.6,100.3" fill="#fff" stroke="none"/>
<line x1="1106.4" y1="113.7" x2="1098.4" y2="118.7" stroke="#000" stroke-width="2.5"/>
<line x1="1099.6" y1="100.3" x2="1091.6" y2="105.3" stroke="#000" stroke-width="2.5"/>
<ellipse cx="1095.0" cy="112.0" rx="6.2" ry="7.6" transform="rotate(-15 1095.0 112.0)" fill="#fff" stroke="#000" stroke-width="2.5" />
<ellipse cx="1094.0" cy="113.0" rx="3.0" ry="4.5" transform="rotate(-15 1094.0 113.0)" fill="none" stroke="#000" stroke-width="1.6" />
<ellipse cx="1170.0" cy="68.0" rx="6.5" ry="7.3" transform="rotate(-15 1170.0 68.0)" fill="#fff" stroke="#000" stroke-width="2.5" />
<polygon points="1173.7,74.2 1166.5,79.1 1159.1,66.7 1166.3,61.8" fill="#fff" stroke="none"/>
<line x1="1173.7" y1="74.2" x2="1166.5" y2="79.1" stroke="#000" stroke-width="2.5"/>
<line x1="1166.3" y1="61.8" x2="1159.1" y2="66.7" stroke="#000" stroke-width="2.5"/>
<ellipse cx="1162.8" cy="72.9" rx="6.5" ry="7.3" transform="rotate(-15 1162.8 72.9)" fill="#fff" stroke="#000" stroke-width="2.5" />
<ellipse cx="1162.0" cy="74.0" rx="3.0" ry="4.5" transform="rotate(-15 1162.0 74.0)" fill="none" stroke="#000" stroke-width="1.6" />
<ellipse cx="1196.0" cy="54.5" rx="8.0" ry="10.3" transform="rotate(-30 1196.0 54.5)" fill="#fff" stroke="#000" stroke-width="3.2" />
<ellipse cx="1196.0" cy="54.5" rx="3.5" ry="5.0" transform="rotate(-30 1196.0 54.5)" fill="none" stroke="#000" stroke-width="1.8" />
<ellipse cx="1223.0" cy="39.6" rx="9.3" ry="8.4" transform="rotate(0 1223.0 39.6)" fill="#000" stroke="#000" stroke-width="2.5" />
<path d="M1219.7,40.4 L1221.6,43.8" stroke="#fff" stroke-width="1.4"/>
<line x1="1142" y1="92" x2="1413.5" y2="250" stroke="#000" stroke-width="2.2"/>
<line x1="1139.6" y1="100.8" x2="1406" y2="256" stroke="#000" stroke-width="2.2"/>
<ellipse cx="1137.0" cy="89.0" rx="8.7" ry="11.2" transform="rotate(-20 1137.0 89.0)" fill="#fff" stroke="#000" stroke-width="2.5" />
<polygon points="1141.6,99.2 1133.0,103.6 1123.8,83.2 1132.4,78.8" fill="#fff" stroke="none"/>
<line x1="1141.6" y1="99.2" x2="1133.0" y2="103.6" stroke="#000" stroke-width="2.5"/>
<line x1="1132.4" y1="78.8" x2="1123.8" y2="83.2" stroke="#000" stroke-width="2.5"/>
<ellipse cx="1128.4" cy="93.4" rx="8.7" ry="11.2" transform="rotate(-20 1128.4 93.4)" fill="#fff" stroke="#000" stroke-width="2.5" />
<ellipse cx="1428.0" cy="256.0" rx="8.7" ry="10.3" transform="rotate(-20 1428.0 256.0)" fill="#fff" stroke="#000" stroke-width="2.5" />
<polygon points="1432.8,265.1 1418.8,273.4 1409.2,255.2 1423.2,246.9" fill="#fff" stroke="none"/>
<line x1="1432.8" y1="265.1" x2="1418.8" y2="273.4" stroke="#000" stroke-width="2.5"/>
<line x1="1423.2" y1="246.9" x2="1409.2" y2="255.2" stroke="#000" stroke-width="2.5"/>
<ellipse cx="1414.0" cy="264.3" rx="8.7" ry="10.3" transform="rotate(-20 1414.0 264.3)" fill="#fff" stroke="#000" stroke-width="2.5" />
<ellipse cx="1468.0" cy="229.0" rx="7.5" ry="10.3" transform="rotate(-20 1468.0 229.0)" fill="#fff" stroke="#000" stroke-width="2.5" />
<polygon points="1472.3,238.3 1458.8,245.6 1450.2,227.0 1463.7,219.7" fill="#fff" stroke="none"/>
<line x1="1472.3" y1="238.3" x2="1458.8" y2="245.6" stroke="#000" stroke-width="2.5"/>
<line x1="1463.7" y1="219.7" x2="1450.2" y2="227.0" stroke="#000" stroke-width="2.5"/>
<ellipse cx="1454.5" cy="236.3" rx="7.5" ry="10.3" transform="rotate(-20 1454.5 236.3)" fill="#fff" stroke="#000" stroke-width="2.5" />
<ellipse cx="1454.5" cy="236.3" rx="6.0" ry="8.5" transform="rotate(-20 1454.5 236.3)" fill="#000" stroke="#000" stroke-width="0" />
<ellipse cx="1455.5" cy="236.5" rx="2.5" ry="6.0" transform="rotate(-20 1455.5 236.5)" fill="none" stroke="#fff" stroke-width="1.3" />
<ellipse cx="1503.0" cy="213.0" rx="9.0" ry="7.5" transform="rotate(0 1503.0 213.0)" fill="#000" stroke="#000" stroke-width="2.5" />
<path d="M1499.8,213.8 L1501.7,216.8" stroke="#fff" stroke-width="1.4"/>
<line x1="1366.0" y1="289.0" x2="1394.8" y2="270.8" stroke="#000" stroke-width="10.4" stroke-linecap="round"/><line x1="1366.0" y1="289.0" x2="1394.8" y2="270.8" stroke="#fff" stroke-width="5.6" stroke-linecap="round"/>
<line x1="1393.6" y1="276.3" x2="1391.0" y2="268.5" stroke="#000" stroke-width="1.5"/>
<line x1="1390.2" y1="278.5" x2="1387.6" y2="270.6" stroke="#000" stroke-width="1.5"/>
<line x1="1386.8" y1="280.6" x2="1384.2" y2="272.8" stroke="#000" stroke-width="1.5"/>
<ellipse cx="1366.0" cy="289.0" rx="6.0" ry="7.5" transform="rotate(-32.29061186374426 1366.0 289.0)" fill="#000" stroke="#000" stroke-width="2.4" />
<line x1="1202" y1="538" x2="1207.8" y2="562" stroke="#000" stroke-width="7" stroke-linecap="round"/>
<path d="M1195,571 Q1196,565 1202,563 L1214,562 Q1220,564 1221,568 L1236,650 Q1226,656 1214,653 Z" fill="#fff" stroke="#000" stroke-width="2.4" stroke-linejoin="round"/>
<path d="M1216,655 L1224,700 Q1232,704 1242,699 L1235,653" fill="#fff" stroke="#000" stroke-width="2.4"/>
<path d="M1224,700 L1226,707 Q1234,710 1243,705 L1242,699" fill="#fff" stroke="#000" stroke-width="2"/>
<ellipse cx="1232.0" cy="716.0" rx="7.0" ry="8.0" transform="rotate(-20 1232.0 716.0)" fill="#fff" stroke="#000" stroke-width="2.4" />
<polygon points="1234.5,708.9 1242.5,712.9 1237.5,727.1 1229.5,723.1" fill="#fff" stroke="none"/>
<line x1="1234.5" y1="708.9" x2="1242.5" y2="712.9" stroke="#000" stroke-width="2.4"/>
<line x1="1229.5" y1="723.1" x2="1237.5" y2="727.1" stroke="#000" stroke-width="2.4"/>
<ellipse cx="1240.0" cy="720.0" rx="7.0" ry="8.0" transform="rotate(-20 1240.0 720.0)" fill="#fff" stroke="#000" stroke-width="2.4" />
<path d="M1196,572 L1220,568" fill="none" stroke="#000" stroke-width="2"/>
<ellipse cx="1212.0" cy="729.0" rx="7.0" ry="9.0" transform="rotate(-20 1212.0 729.0)" fill="#fff" stroke="#000" stroke-width="2.6" />
<polygon points="1215.8,737.1 1205.8,742.6 1198.2,726.4 1208.2,720.9" fill="#fff" stroke="none"/>
<line x1="1215.8" y1="737.1" x2="1205.8" y2="742.6" stroke="#000" stroke-width="2.6"/>
<line x1="1208.2" y1="720.9" x2="1198.2" y2="726.4" stroke="#000" stroke-width="2.6"/>
<ellipse cx="1202.0" cy="734.5" rx="7.0" ry="9.0" transform="rotate(-20 1202.0 734.5)" fill="#fff" stroke="#000" stroke-width="2.6" />
<ellipse cx="1206.0" cy="732.5" rx="5.0" ry="8.0" transform="rotate(-20 1206.0 732.5)" fill="none" stroke="#000" stroke-width="1.8" />
<ellipse cx="1202.0" cy="734.5" rx="3.0" ry="5.0" transform="rotate(-20 1202.0 734.5)" fill="none" stroke="#000" stroke-width="1.6" />
<ellipse cx="1181.0" cy="748.2" rx="8.5" ry="8.5" transform="rotate(0 1181.0 748.2)" fill="#000" stroke="#000" stroke-width="0" />
<ellipse cx="1181.0" cy="748.2" rx="2.2" ry="2.2" transform="rotate(0 1181.0 748.2)" fill="#fff" stroke="#000" stroke-width="0" />
<ellipse cx="1264.0" cy="700.0" rx="8.0" ry="7.0" transform="rotate(0 1264.0 700.0)" fill="#fff" stroke="#000" stroke-width="2.4" />
<ellipse cx="1264.0" cy="700.0" rx="3.6" ry="3.1" transform="rotate(0 1264.0 700.0)" fill="none" stroke="#000" stroke-width="1.5" />
<ellipse cx="1256.0" cy="704.0" rx="6.0" ry="6.0" transform="rotate(0 1256.0 704.0)" fill="#fff" stroke="#000" stroke-width="2.4" />
<ellipse cx="1248.5" cy="473.3" rx="10.6" ry="7.5" transform="rotate(0 1248.5 473.3)" fill="#fff" stroke="#000" stroke-width="3" />
<path d="M1241,476 L1256,469 M1242,478 L1255,478" fill="none" stroke="#000" stroke-width="1.6"/>
<rect x="1242.9" y="489.9" width="19" height="15" rx="6" ry="6" fill="#fff" stroke="#000" stroke-width="2.8"/><path d="M1247.4,492.9 Q1252.4,496.9 1257.4,492.9" fill="none" stroke="#000" stroke-width="2"/>
<ellipse cx="1257.4" cy="522.0" rx="10.0" ry="8.0" transform="rotate(0 1257.4 522.0)" fill="#000" stroke="#000" stroke-width="0" />
<path d="M1250,532 L1264,532 L1262,528 L1252,528 Z" fill="#000"/>
<line x1="1253" y1="526" x2="1262" y2="526" stroke="#fff" stroke-width="1.3"/>
<path d="M1240.7,556.9 L1254.7,544.9 L1273.6,538 L1282.5,538.5 L1285.5,545 L1277.6,551.9 L1268.6,558.9 L1255.7,564.9 L1243.7,563.9 Z" fill="#fff" stroke="#000" stroke-width="2.4" stroke-linejoin="round"/>
<path d="M1258,548 L1261,552 L1266,551 L1267,547 M1246,557 L1252,556 M1275,541 L1281,541" fill="none" stroke="#000" stroke-width="2"/>
<rect x="1264.1" y="593.7" width="18" height="14" rx="6" ry="6" fill="#fff" stroke="#000" stroke-width="2.8"/><path d="M1268.1,596.7 Q1273.1,600.7 1278.1,596.7" fill="none" stroke="#000" stroke-width="2"/>
<ellipse cx="1278.6" cy="630.1" rx="10.5" ry="7.5" transform="rotate(0 1278.6 630.1)" fill="#000" stroke="#000" stroke-width="0" />
<line x1="1274" y1="632" x2="1283" y2="632" stroke="#fff" stroke-width="1.3"/>
<g fill="none" stroke="#000" stroke-width="2.8">
<circle cx="300.5" cy="499" r="12"/>
<circle cx="682.5" cy="726" r="12"/>
<circle cx="686" cy="864" r="12"/>
<circle cx="1085" cy="382" r="12"/>
<circle cx="1286.5" cy="572" r="12"/>
<circle cx="1233.5" cy="401" r="12"/>
<circle cx="1239" cy="432.5" r="12"/>
</g>
<g font-family="Liberation Sans, sans-serif" font-size="17" font-weight="bold" fill="#000" stroke="#000" stroke-width="0.5" text-anchor="middle">
<text x="300.5" y="505.5">B</text>
<text x="682.5" y="732.5">B</text>
<text x="686" y="870.5">B</text>
<text x="1085" y="388.5">B</text>
<text x="1286.5" y="578.5">B</text>
<text x="1233.5" y="407.5">N</text>
<text x="1239" y="439">N</text>
</g>

<rect x="351" y="22.5" width="3" height="2" fill="#000"/><rect x="671" y="179" width="3" height="2" fill="#000"/><rect x="611.5" y="1066.5" width="2.5" height="1.5" fill="#000"/>
<g font-family="Liberation Sans, sans-serif" font-weight="bold" font-size="18" fill="#000" stroke="#000" stroke-width="0.9">
<text x="61" y="402" textLength="115" lengthAdjust="spacingAndGlyphs">90179–08034</text>
<text x="89" y="433" textLength="68" lengthAdjust="spacingAndGlyphs">48817S</text>
<text x="120" y="472" textLength="69" lengthAdjust="spacingAndGlyphs">48817R</text>
<text x="70" y="502" textLength="109" lengthAdjust="spacingAndGlyphs">48836R (RH)</text>
<text x="70" y="524" textLength="107" lengthAdjust="spacingAndGlyphs">48837R (LH)</text>
<text x="89" y="565" textLength="68" lengthAdjust="spacingAndGlyphs">48817S</text>
<text x="120" y="600" textLength="69" lengthAdjust="spacingAndGlyphs">48817R</text>
<text x="89" y="639" textLength="68" lengthAdjust="spacingAndGlyphs">48817S</text>
<text x="100" y="710" textLength="67" lengthAdjust="spacingAndGlyphs">48819B</text>
<text x="88" y="773" textLength="68" lengthAdjust="spacingAndGlyphs">48817S</text>
<text x="119" y="821" textLength="68" lengthAdjust="spacingAndGlyphs">48817R</text>
<text x="119" y="877" textLength="68" lengthAdjust="spacingAndGlyphs">48817R</text>
<text x="87" y="907" textLength="68" lengthAdjust="spacingAndGlyphs">48817S</text>
<text x="55" y="937" textLength="115" lengthAdjust="spacingAndGlyphs">90179–08034</text>
<text x="321" y="448" textLength="142" lengthAdjust="spacingAndGlyphs">91656–40822 (2)</text>
<text x="476" y="477" textLength="56" lengthAdjust="spacingAndGlyphs">48710</text>
<text x="426" y="515" textLength="68" lengthAdjust="spacingAndGlyphs">48702C</text>
<text x="527" y="516" textLength="68" lengthAdjust="spacingAndGlyphs">48702C</text>
<text x="330" y="539" textLength="69" lengthAdjust="spacingAndGlyphs">48715A</text>
<text x="653" y="546" textLength="115" lengthAdjust="spacingAndGlyphs">90179–16008</text>
<text x="711" y="573" textLength="69" lengthAdjust="spacingAndGlyphs">48715A</text>
<text x="346" y="682" textLength="115" lengthAdjust="spacingAndGlyphs">90179–16008</text>
<text x="600" y="665" textLength="67" lengthAdjust="spacingAndGlyphs">48815R</text>
<text x="583" y="700" textLength="67" lengthAdjust="spacingAndGlyphs">48824R</text>
<text x="739" y="692" textLength="56" lengthAdjust="spacingAndGlyphs">48812</text>
<text x="625" y="774" textLength="115" lengthAdjust="spacingAndGlyphs">91616–40818</text>
<text x="628" y="822" textLength="116" lengthAdjust="spacingAndGlyphs">91656–60822</text>
<text x="567" y="901" textLength="67" lengthAdjust="spacingAndGlyphs">48725A</text>
<text x="754" y="901" textLength="56" lengthAdjust="spacingAndGlyphs">48729</text>
<text x="589" y="943" textLength="114" lengthAdjust="spacingAndGlyphs">90201–16017</text>
<text x="831" y="840" textLength="66" lengthAdjust="spacingAndGlyphs">48725A</text>
<text x="807" y="1020" textLength="67" lengthAdjust="spacingAndGlyphs">48702C</text>
<text x="891" y="1053" textLength="96" lengthAdjust="spacingAndGlyphs">48720 (RH)</text>
<text x="891" y="1074" textLength="96" lengthAdjust="spacingAndGlyphs">48730 (LH)</text>
<text x="977" y="934" textLength="67" lengthAdjust="spacingAndGlyphs">48702C</text>
<text x="1096" y="908" textLength="114" lengthAdjust="spacingAndGlyphs">90179–16008</text>
<text x="1501" y="1072" textLength="84" lengthAdjust="spacingAndGlyphs">NC0303–C</text>
<text x="1133" y="29" textLength="55" lengthAdjust="spacingAndGlyphs">48745</text>
<text x="1251" y="47" textLength="115" lengthAdjust="spacingAndGlyphs">90179–16001</text>
<text x="1228" y="68" textLength="115" lengthAdjust="spacingAndGlyphs">94613–11600</text>
<text x="1064" y="67" textLength="55" lengthAdjust="spacingAndGlyphs">48745</text>
<text x="911" y="132" textLength="115" lengthAdjust="spacingAndGlyphs">90201–21006</text>
<text x="1354" y="102" textLength="56" lengthAdjust="spacingAndGlyphs">48740</text>
<text x="1435" y="183" textLength="69" lengthAdjust="spacingAndGlyphs">48706A</text>
<text x="1479" y="264" textLength="113" lengthAdjust="spacingAndGlyphs">90179–16001</text>
<text x="1413" y="297" textLength="67" lengthAdjust="spacingAndGlyphs">48745A</text>
<text x="1004" y="259" textLength="56" lengthAdjust="spacingAndGlyphs">48257</text>
<text x="1060" y="287" textLength="56" lengthAdjust="spacingAndGlyphs">48306</text>
<text x="827" y="355" textLength="55" lengthAdjust="spacingAndGlyphs">48231</text>
<text x="1027" y="428" textLength="114" lengthAdjust="spacingAndGlyphs">91616–40820</text>
<text x="1030" y="487" textLength="69" lengthAdjust="spacingAndGlyphs">48258A</text>
<text x="1265" y="407" textLength="115" lengthAdjust="spacingAndGlyphs">94110–41000</text>
<text x="1272" y="440" textLength="115" lengthAdjust="spacingAndGlyphs">94110–41000</text>
<text x="1284" y="479" textLength="67" lengthAdjust="spacingAndGlyphs">48530C</text>
<text x="1288" y="502" textLength="69" lengthAdjust="spacingAndGlyphs">48530G</text>
<text x="1294" y="528" textLength="68" lengthAdjust="spacingAndGlyphs">48530B</text>
<text x="1299" y="551" textLength="67" lengthAdjust="spacingAndGlyphs">48516A</text>
<text x="1306" y="578" textLength="142" lengthAdjust="spacingAndGlyphs">91611–60820 (2)</text>
<text x="1480" y="572" textLength="96" lengthAdjust="spacingAndGlyphs">48530 (RH)</text>
<text x="1480" y="594" textLength="96" lengthAdjust="spacingAndGlyphs">48540 (LH)</text>
<text x="1310" y="607" textLength="67" lengthAdjust="spacingAndGlyphs">48530G</text>
<text x="1315" y="635" textLength="67" lengthAdjust="spacingAndGlyphs">48530C</text>
<text x="1293" y="706" textLength="114" lengthAdjust="spacingAndGlyphs">90119–10355</text>
<text x="1294" y="737" textLength="67" lengthAdjust="spacingAndGlyphs">48530A</text>
<text x="1296" y="757" textLength="68" lengthAdjust="spacingAndGlyphs">48530E</text>
</g>
</svg></body></html>
